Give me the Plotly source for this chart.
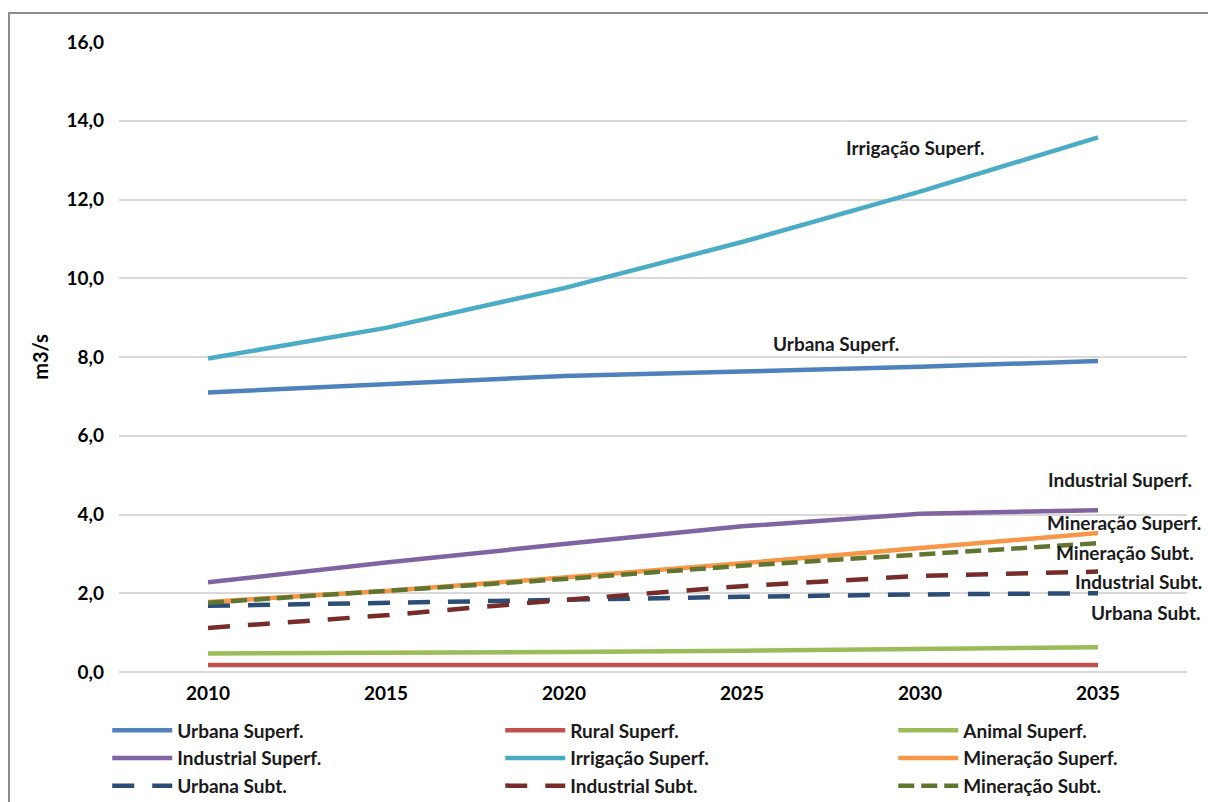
import plotly.graph_objects as go

# Anos da projeção
anos = ["2010", "2015", "2020", "2025", "2030", "2035"]

# Demandas projetadas (m3/s)
urbana_superf = [7.10, 7.31, 7.52, 7.63, 7.75, 7.90]
rural_superf = [0.18, 0.18, 0.18, 0.18, 0.18, 0.18]
animal_superf = [0.47, 0.48, 0.51, 0.54, 0.58, 0.63]
industrial_superf = [2.28, 2.78, 3.25, 3.70, 4.02, 4.11]
irrigacao_superf = [7.96, 8.74, 9.75, 10.92, 12.20, 13.58]
mineracao_superf = [1.78, 2.06, 2.40, 2.76, 3.15, 3.53]
urbana_subt = [1.68, 1.76, 1.84, 1.91, 1.97, 2.00]
industrial_subt = [1.12, 1.44, 1.83, 2.18, 2.44, 2.55]
mineracao_subt = [1.76, 2.05, 2.36, 2.70, 2.99, 3.27]

series = [
    ("Urbana Superf.", urbana_superf, "#4F81BD", "solid"),
    ("Rural Superf.", rural_superf, "#C0504D", "solid"),
    ("Animal Superf.", animal_superf, "#9BBB59", "solid"),
    ("Industrial Superf.", industrial_superf, "#8064A2", "solid"),
    ("Irrigação Superf.", irrigacao_superf, "#4BACC6", "solid"),
    ("Mineração Superf.", mineracao_superf, "#F79646", "solid"),
    ("Urbana Subt.", urbana_subt, "#2C4D75", "22px,18px"),
    ("Industrial Subt.", industrial_subt, "#772C2A", "22px,18px"),
    ("Mineração Subt.", mineracao_subt, "#5F7530", "16px,7px"),
]

FONT = "Lato, Calibri, sans-serif"
FS = 19

fig = go.Figure()
for nome, valores, cor, traco in series:
    fig.add_trace(go.Scatter(
        x=anos, y=valores, name=nome, mode="lines",
        line=dict(color=cor, width=4.5, dash=traco),
    ))

# Rótulos das séries junto às linhas
rotulos = [
    ("Irrigação Superf.", 0.745, 0.833, "center"),
    ("Urbana Superf.", 0.671, 0.522, "center"),
    ("Industrial Superf.", 0.937, 0.306, "center"),
    ("Mineração Superf.", 0.941, 0.238, "center"),
    ("Mineração Subt.", 0.942, 0.190, "center"),
    ("Industrial Subt.", 0.955, 0.143, "center"),
    ("Urbana Subt.", 0.908, 0.095, "left"),
]
for texto, xp, yp, anc in rotulos:
    fig.add_annotation(
        text="<b>%s</b>" % texto, x=xp, y=yp, xref="paper", yref="paper",
        xanchor=anc, yanchor="middle", showarrow=False,
        font=dict(family=FONT, size=FS, color="#1a1a1a"),
    )

# Moldura da área do gráfico
fig.add_shape(
    type="rect", xref="paper", yref="paper",
    x0=-0.103, y0=-0.6, x1=1.2, y1=1.046,
    line=dict(color="#8c8c8c", width=2), fillcolor="rgba(0,0,0,0)", layer="below",
)

fig.update_layout(
    width=1208, height=802,
    margin=dict(l=119, r=21, t=42, b=130, autoexpand=False),
    paper_bgcolor="white", plot_bgcolor="white",
    separators=",.",
    font=dict(family=FONT, size=FS, color="#000000"),
    showlegend=True,
    legend=dict(
        orientation="h", xref="paper", yref="paper",
        x=-0.011, y=-0.0625, xanchor="left", yanchor="top",
        entrywidth=318, entrywidthmode="pixels",
        font=dict(family=FONT, size=FS, color="#1a1a1a", weight="bold"),
        itemwidth=60, traceorder="normal",
        bgcolor="rgba(0,0,0,0)",
    ),
    xaxis=dict(
        type="category", range=[-0.5, 5.5],
        showgrid=False, showline=False, zeroline=False,
        ticks="", ticklabelstandoff=8,
        tickfont=dict(family=FONT, size=FS, color="#000000", weight="bold"),
    ),
    yaxis=dict(
        range=[0, 16], dtick=2, tickformat=".1f",
        showgrid=True, gridcolor="#D9D9D9", gridwidth=1.5,
        zeroline=True, zerolinecolor="#D9D9D9", zerolinewidth=1.5,
        showline=False, ticks="", ticklabelstandoff=14,
        tickfont=dict(family=FONT, size=FS, color="#000000", weight="bold"),
        title=dict(text="<b>m3/s</b>", font=dict(family=FONT, size=20, color="#000000"), standoff=12),
    ),
)

fig.write_html("out.html")
